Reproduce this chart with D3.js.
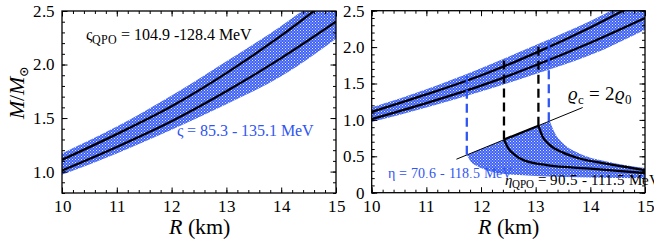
<!DOCTYPE html>
<html>
<head>
<meta charset="utf-8">
<script src="https://cdn.jsdelivr.net/npm/d3@7"></script>
<style>
  @font-face { font-family: "ChartSerif"; src: local("Liberation Serif"), local("LiberationSerif"), local("Liberation Serif Regular"); font-style: normal; }
  @font-face { font-family: "ChartSerif"; src: local("Liberation Serif Italic"), local("LiberationSerif-Italic"); font-style: italic; }
  text, tspan { font-family: "ChartSerif", "Liberation Serif", monospace !important; }
</style>
</head>
<body style="margin:0">
<svg id="chart" width="654" height="242"></svg>
<script>
// radius grid (km) and mass curves
var rGrid = [10, 11, 12, 13, 14, 15];
var mUpper = [1.11, 1.35, 1.61, 1.92, 2.27, 2.66];
var mLower = [1.01, 1.23, 1.47, 1.75, 2.06, 2.40];
var bandTop = [1.17, 1.42, 1.71, 2.03, 2.36, 2.74];
var bandBottom = [0.97, 1.17, 1.39, 1.63, 1.89, 2.24];

// right panel: low-mass branches
var lowR1 = [12.42, 12.5, 12.6, 12.8, 13.2, 13.6, 14, 14.5, 15];
var lowM1 = [0.73, 0.61, 0.53, 0.44, 0.38, 0.35, 0.33, 0.30, 0.27];
var lowR2 = [13.05, 13.12, 13.25, 13.5, 13.8, 14.2, 14.6, 15];
var lowM2 = [0.92, 0.78, 0.66, 0.55, 0.47, 0.41, 0.36, 0.31];
var edgeR = [13.26, 13.35, 13.5, 13.8, 14.3, 15];
var edgeM = [0.98, 0.82, 0.68, 0.54, 0.43, 0.34];
var floorR = [11.74, 11.8, 11.92, 12.1, 12.4, 13, 14, 15];
var floorM = [0.52, 0.44, 0.37, 0.31, 0.26, 0.23, 0.21, 0.20];

// rho_c = 2 rho_0 line and dashed markers
var rhoR = [11.55, 13.86];
var rhoM = [0.46, 1.17];
var dashR = [11.74, 12.42, 13.05, 13.24];
var dashTop = [1.66, 1.85, 2.06, 2.13];
var dashBottom = [0.52, 0.73, 0.92, 0.98];
var dashKind = ["band", "qpo", "qpo", "band"];

var xTicks = [10, 11, 12, 13, 14, 15];
var yTicksLeft = [1.0, 1.5, 2.0, 2.5];
var yTicksRight = [0, 0.5, 1.0, 1.5, 2.0, 2.5];

var blue = "#2f55f2";
var serif = "'Liberation Serif', monospace";
var svg = d3.select("#chart");

function pts(xs, ys) { return xs.map(function(x, i) { return [x, ys[i]]; }); }
function label(x, y, size) {
  return svg.append("text").attr("x", x).attr("y", y)
    .attr("font-family", serif).attr("font-size", size);
}

// checker hatch for the uncertainty bands
var defs = svg.append("defs");
var pat = defs.append("pattern").attr("id", "hatch")
  .attr("patternUnits", "userSpaceOnUse").attr("width", 3).attr("height", 3);
pat.append("rect").attr("width", 3).attr("height", 3).attr("fill", "#3f62f3");
pat.append("rect").attr("x", 0).attr("y", 0).attr("width", 1).attr("height", 1).attr("fill", "#dfe5ff");
pat.append("rect").attr("x", 1.5).attr("y", 1.5).attr("width", 1).attr("height", 1).attr("fill", "#c4d0ff");

function panel(id, x0, x1, yTop, yBot, yDomain, yTicks) {
  var x = d3.scaleLinear().domain([10, 15]).range([x0, x1]);
  var y = d3.scaleLinear().domain(yDomain).range([yBot, yTop]);
  var g = svg.append("g");

  defs.append("clipPath").attr("id", "clip" + id)
    .append("rect").attr("x", x0).attr("y", yTop).attr("width", x1 - x0).attr("height", yBot - yTop);

  var plot = g.append("g").attr("clip-path", "url(#clip" + id + ")");

  var area = d3.area().x(function(d) { return x(d[0]); })
    .y0(function(d) { return y(d[1]); }).y1(function(d) { return y(d[2]); })
    .curve(d3.curveMonotoneX);
  plot.append("path")
    .attr("d", area(rGrid.map(function(r, i) { return [r, bandBottom[i], bandTop[i]]; })))
    .attr("fill", "url(#hatch)");

  var line = d3.line().x(function(d) { return x(d[0]); }).y(function(d) { return y(d[1]); })
    .curve(d3.curveMonotoneX);
  [mUpper, mLower].forEach(function(m) {
    plot.append("path").attr("d", line(pts(rGrid, m)))
      .attr("fill", "none").attr("stroke", "#000").attr("stroke-width", 2.3);
  });

  // minor + major ticks, inward, on all four sides
  var xMinor = d3.range(10, 15.01, 0.2);
  var yMinor = d3.range(yDomain[0], yDomain[1] + 0.001, 0.1);
  function ax(gen, scale, vals, size, tr, labels) {
    var a = gen(scale).tickValues(vals).tickSizeInner(-size).tickSizeOuter(0).tickPadding(7);
    if (!labels) a.tickFormat("");
    else a.tickFormat(labels);
    var ga = g.append("g").attr("transform", tr).call(a)
      .attr("font-family", serif).attr("font-size", 17);
    ga.select(".domain").remove();
    ga.selectAll("line").attr("stroke", "#000");
    ga.selectAll("text").attr("fill", "#000")
      .attr("font-family", serif).attr("font-size", 17);
  }
  var fy = function(d) { return d === 0 ? "0" : d3.format(".1f")(d); };
  ax(d3.axisBottom, x, xMinor, 3, "translate(0," + yBot + ")");
  ax(d3.axisBottom, x, xTicks, 5.5, "translate(0," + yBot + ")", d3.format("d"));
  ax(d3.axisTop, x, xMinor, 3, "translate(0," + yTop + ")");
  ax(d3.axisTop, x, xTicks, 5.5, "translate(0," + yTop + ")");
  ax(d3.axisLeft, y, yMinor, 3, "translate(" + x0 + ",0)");
  ax(d3.axisLeft, y, yTicks, 5.5, "translate(" + x0 + ",0)", fy);
  ax(d3.axisRight, y, yMinor, 3, "translate(" + x1 + ",0)");
  ax(d3.axisRight, y, yTicks, 5.5, "translate(" + x1 + ",0)");

  g.append("rect").attr("x", x0).attr("y", yTop).attr("width", x1 - x0).attr("height", yBot - yTop)
    .attr("fill", "none").attr("stroke", "#000").attr("stroke-width", 1.3);

  var lab = label((x0 + x1) / 2, 234, 22).attr("text-anchor", "middle");
  lab.append("tspan").attr("font-style", "italic").text("R");
  lab.append("tspan").text(" (km)");

  return { x: x, y: y, g: g, plot: plot, line: line };
}

var L = panel("L", 62, 336, 11, 193, [0.8, 2.5], yTicksLeft);
var R = panel("R", 371.7, 645, 10.7, 192.7, [0, 2.5], yTicksRight);

// y label
var yl = label(0, 0, 22).attr("transform", "translate(24,93) rotate(-90)")
  .attr("text-anchor", "middle");
yl.append("tspan").attr("font-style", "italic").text("M");
yl.append("tspan").text("/");
yl.append("tspan").attr("font-style", "italic").text("M");
yl.append("tspan").attr("font-size", 15).attr("dy", 5).text("\u2299");

// left panel labels
var t1 = label(86, 40, 16);
t1.append("tspan").text("\u03c2");
t1.append("tspan").attr("font-size", 12).attr("dy", 4).text("QPO");
t1.append("tspan").attr("dy", -4).text(" = 104.9 -128.4 MeV");

label(177, 136, 15.5).attr("fill", blue).text("\u03c2 = 85.3 - 135.1 MeV");

// right panel: low-mass band, curves, dashed markers
var lx = R.x, ly = R.y;
var curveLine = d3.line().x(function(d) { return lx(d[0]); }).y(function(d) { return ly(d[1]); })
  .curve(d3.curveMonotoneX);
var lowBand = "M" + lx(dashR[0]) + "," + ly(dashBottom[0]) +
  "L" + lx(edgeR[0]) + "," + ly(edgeM[0]) +
  curveLine(pts(edgeR, edgeM)).replace(/^M/, "L") +
  curveLine(pts(floorR, floorM).reverse()).replace(/^M/, "L") + "Z";
R.plot.append("path").attr("d", lowBand).attr("fill", "url(#hatch)");

R.plot.append("path").attr("d", curveLine(pts(rhoR, rhoM)))
  .attr("fill", "none").attr("stroke", "#000").attr("stroke-width", 1);

dashR.forEach(function(r, i) {
  R.plot.append("line")
    .attr("x1", lx(r)).attr("x2", lx(r)).attr("y1", ly(dashBottom[i])).attr("y2", ly(dashTop[i]))
    .attr("stroke", dashKind[i] === "band" ? blue : "#000").attr("stroke-width", 2.3)
    .attr("stroke-dasharray", "9,5");
});

[pts(lowR1, lowM1), pts(lowR2, lowM2)].forEach(function(p) {
  R.plot.append("path").attr("d", curveLine(p))
    .attr("fill", "none").attr("stroke", "#000").attr("stroke-width", 2.3);
});
// thick segment of rho line between the QPO markers
R.plot.append("path").attr("d", curveLine([[dashR[1], dashBottom[1]], [dashR[2], dashBottom[2]]]))
  .attr("fill", "none").attr("stroke", "#000").attr("stroke-width", 2.3);

var t3 = label(568, 100, 19);
t3.append("tspan").attr("font-style", "italic").text("\u03f1");
t3.append("tspan").attr("font-size", 13).attr("dy", 4).text("c");
t3.append("tspan").attr("dy", -4).text(" = 2");
t3.append("tspan").attr("font-style", "italic").text("\u03f1");
t3.append("tspan").attr("font-size", 13).attr("dy", 4).text("0");

label(388, 178, 13.5).attr("fill", blue).text("\u03b7 = 70.6 - 118.5 MeV");

var t5 = label(505, 185, 14.5);
t5.append("tspan").attr("font-style", "italic").text("\u03b7");
t5.append("tspan").attr("font-size", 10.5).attr("dy", 3).text("QPO");
t5.append("tspan").attr("dy", -3).text(" = 90.5 - 111.5 MeV");
</script>
</body>
</html>
